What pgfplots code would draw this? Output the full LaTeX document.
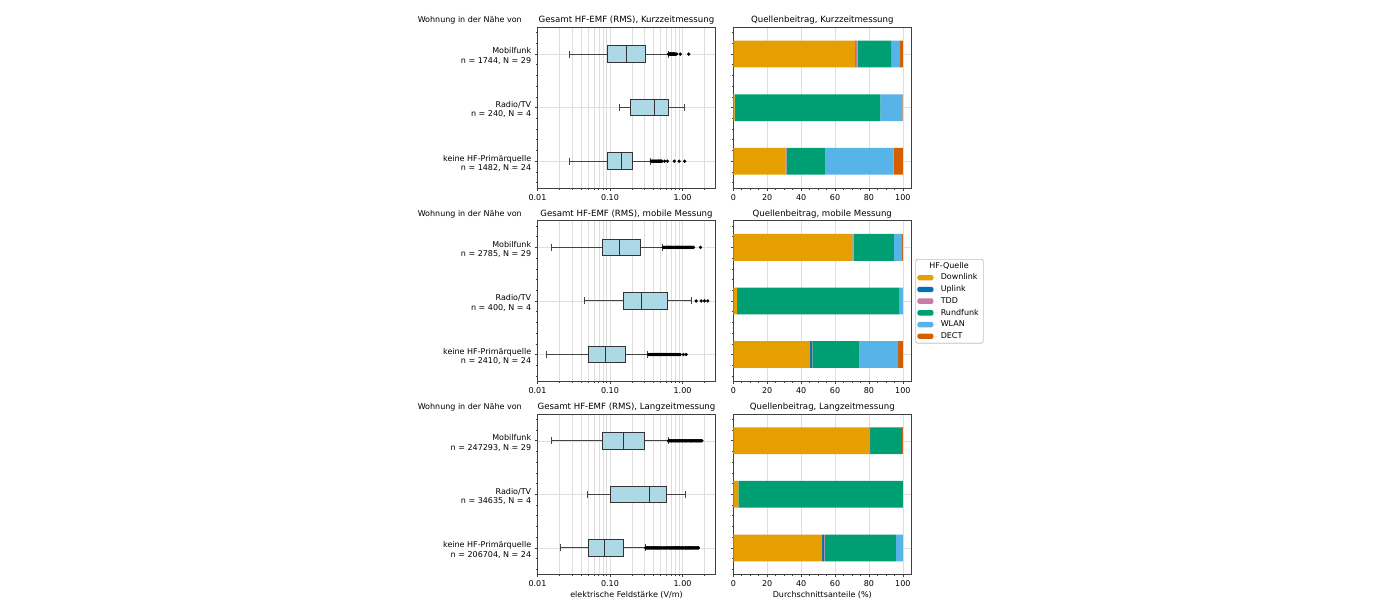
\documentclass[border=0pt]{standalone}
\usepackage{pgfplots}
\pgfplotsset{compat=1.18}
\usepgfplotslibrary{statistics}
\usepackage{fontspec}
\setmainfont{DejaVu Sans}
\definecolor{boxfill}{HTML}{ADD8E6}
\definecolor{boxedge}{HTML}{333333}
\definecolor{whisk}{HTML}{444444}
\definecolor{cDown}{HTML}{E69F00}
\definecolor{cUp}{HTML}{0072B2}
\definecolor{cTDD}{HTML}{CC79A7}
\definecolor{cRund}{HTML}{009E73}
\definecolor{cWLAN}{HTML}{56B4E9}
\definecolor{cDECT}{HTML}{D55E00}
\definecolor{gridc}{HTML}{DEDEDE}
\pgfplotsset{
  myCommon/.style={
    scale only axis, width=178pt, height=160.7pt,
    font=\fontsize{8}{9.5}\selectfont,
    axis line style={black!75, line width=0.6pt},
    tick align=outside, major tick length=2.8pt, minor tick length=1.6pt,
    every tick/.style={black!75, line width=0.6pt},
    xtick pos=lower, ytick pos=left,
    ymin=-0.5, ymax=2.5, y dir=reverse, ytick={0,1,2},
    minor ytick={-0.4,-0.2,0.2,0.4,0.6,0.8,1.2,1.4,1.6,1.8,2.2,2.4},
    ymajorgrids, xmajorgrids,
    major grid style={gridc, line width=0.55pt},
    minor grid style={gridc, line width=0.55pt},
    /pgf/number format/assume math mode=true,
    every axis title/.style={at={(0.5,1)}, anchor=base, yshift=4.5pt, inner sep=0pt, font=\fontsize{8.6}{10}\selectfont},
    xticklabel style={font=\fontsize{8}{9.5}\selectfont},
    yticklabel style={font=\fontsize{8}{9.5}\selectfont},
    every axis x label/.style={at={(0.5,0)}, anchor=base, yshift=-22.3pt, inner sep=0pt, font=\fontsize{8}{9.5}\selectfont},
    clip=false,
  },
  myLeft/.style={myCommon, xmin=0.01, xmax=2.85,
    xtick={0.01,0.1,1}, xticklabels={0.01,0.10,1.00},
    minor xtick={0.02,0.03,0.04,0.05,0.06,0.07,0.08,0.09,0.2,0.3,0.4,0.5,0.6,0.7,0.8,0.9,2},
    xminorgrids,
    yticklabel style={align=right, yshift=-2pt},
    boxplot/draw direction=x,
    boxplot/every box/.style={fill=boxfill, draw=boxedge, line width=1pt},
    boxplot/every median/.style={draw=boxedge, line width=1pt},
    boxplot/every whisker/.style={draw=whisk, line width=0.9pt},
  },
  myRight/.style={myCommon, xmin=0, xmax=105,
    xtick={0,20,40,60,80,100},
    minor xtick={5,10,15,25,30,35,45,50,55,65,70,75,85,90,95},
    yticklabels={},
    xbar stacked, bar width=0.5,
  },
  myBox/.style={draw=whisk, line width=0.9pt, solid},
  myFl/.style={only marks, mark=*, mark size=1.5pt, black, mark options={fill=black, draw=black, line width=0.3pt}},
}
\newcommand{\wohn}{\node[anchor=base east, inner sep=0pt, font=\fontsize{8}{9.5}\selectfont] at (axis description cs:0,1) [xshift=-15.5pt, yshift=4.5pt] {Wohnung in der Nähe von};}
\begin{document}
\begin{tikzpicture}
\path[use as bounding box] (0,0) rectangle (1400pt,613pt);

% ---------- Kurzzeitmessung: box plot
\begin{semilogxaxis}[myLeft, at={(537.5pt,585.7pt)}, anchor=north west,
  title={Gesamt HF-EMF (RMS), Kurzzeitmessung},
  yticklabels={{Mobilfunk\\n = 1744, N = 29},{Radio/TV\\n = 240, N = 4},{keine HF-Primärquelle\\n = 1482, N = 24}}]
\wohn
\addplot[myBox, boxplot prepared={draw position=0, lower whisker=0.0274, lower quartile=0.0914, median=0.171, upper quartile=0.312, upper whisker=0.634, box extend=0.31, whisker extend=0.13}] coordinates {};
\addplot[myBox, boxplot prepared={draw position=1, lower whisker=0.134, lower quartile=0.190, median=0.406, upper quartile=0.648, upper whisker=1.077, box extend=0.31, whisker extend=0.13}] coordinates {};
\addplot[myBox, boxplot prepared={draw position=2, lower whisker=0.0276, lower quartile=0.0933, median=0.146, upper quartile=0.204, upper whisker=0.366, box extend=0.31, whisker extend=0.13}] coordinates {};
\addplot[myFl] coordinates {(0.64,0) (0.65,0) (0.66,0) (0.67,0) (0.68,0) (0.69,0) (0.70,0) (0.71,0) (0.72,0) (0.73,0) (0.74,0) (0.75,0) (0.76,0) (0.77,0) (0.78,0) (0.80,0) (0.83,0) (0.93,0) (1.22,0)};
\addplot[myFl] coordinates {(0.37,2) (0.38,2) (0.39,2) (0.40,2) (0.41,2) (0.42,2) (0.43,2) (0.44,2) (0.45,2) (0.46,2) (0.47,2) (0.48,2) (0.49,2) (0.50,2) (0.51,2) (0.52,2) (0.565,2) (0.62,2) (0.77,2) (0.90,2) (1.07,2)};
\end{semilogxaxis}

% ---------- Kurzzeitmessung: shares
\begin{axis}[myRight, at={(733.3pt,585.7pt)}, anchor=north west,
  title={Quellenbeitrag, Kurzzeitmessung}]
\addplot[fill=cDown, draw=none] coordinates {(71.8,0) (0.8,1) (30.8,2)};
\addplot[fill=cUp, draw=none] coordinates {(0.3,0) (0,1) (0.4,2)};
\addplot[fill=cTDD, draw=none] coordinates {(1.2,0) (0,1) (0.2,2)};
\addplot[fill=cRund, draw=none] coordinates {(19.8,0) (86.0,1) (22.9,2)};
\addplot[fill=cWLAN, draw=none] coordinates {(5.3,0) (13.0,1) (40.2,2)};
\addplot[fill=cDECT, draw=none] coordinates {(1.6,0) (0.2,1) (5.5,2)};
\end{axis}

% ---------- mobile Messung: box plot
\begin{semilogxaxis}[myLeft, at={(537.5pt,392.4pt)}, anchor=north west,
  title={Gesamt HF-EMF (RMS), mobile Messung},
  yticklabels={{Mobilfunk\\n = 2785, N = 29},{Radio/TV\\n = 400, N = 4},{keine HF-Primärquelle\\n = 2410, N = 24}}]
\wohn
\addplot[myBox, boxplot prepared={draw position=0, lower whisker=0.01545, lower quartile=0.0788, median=0.137, upper quartile=0.263, upper whisker=0.535, box extend=0.31, whisker extend=0.13}] coordinates {};
\addplot[myBox, boxplot prepared={draw position=1, lower whisker=0.045, lower quartile=0.155, median=0.272, upper quartile=0.628, upper whisker=1.32, box extend=0.31, whisker extend=0.13}] coordinates {};
\addplot[myBox, boxplot prepared={draw position=2, lower whisker=0.01317, lower quartile=0.051, median=0.0876, upper quartile=0.165, upper whisker=0.333, box extend=0.31, whisker extend=0.13}] coordinates {};
\addplot[myFl] coordinates {(0.54,0) (0.553,0) (0.567,0) (0.58,0) (0.595,0) (0.61,0) (0.625,0) (0.64,0) (0.656,0) (0.672,0) (0.689,0) (0.706,0) (0.724,0) (0.742,0) (0.76,0) (0.78,0) (0.80,0) (0.82,0) (0.84,0) (0.86,0) (0.88,0) (0.90,0) (0.925,0) (0.95,0) (0.97,0) (1.00,0) (1.02,0) (1.05,0) (1.08,0) (1.10,0) (1.13,0) (1.16,0) (1.19,0) (1.22,0) (1.25,0) (1.28,0) (1.31,0) (1.34,0) (1.38,0) (1.42,0) (1.77,0)};
\addplot[myFl] coordinates {(1.54,1) (1.81,1) (2.01,1) (2.23,1)};
\addplot[myFl] coordinates {(0.34,2) (0.35,2) (0.36,2) (0.37,2) (0.38,2) (0.39,2) (0.40,2) (0.41,2) (0.42,2) (0.43,2) (0.44,2) (0.45,2) (0.46,2) (0.47,2) (0.48,2) (0.50,2) (0.51,2) (0.52,2) (0.54,2) (0.55,2) (0.57,2) (0.58,2) (0.60,2) (0.61,2) (0.63,2) (0.65,2) (0.66,2) (0.68,2) (0.70,2) (0.72,2) (0.74,2) (0.76,2) (0.78,2) (0.80,2) (0.82,2) (0.84,2) (0.86,2) (0.88,2) (0.90,2) (0.93,2) (1.03,2) (1.12,2)};
\end{semilogxaxis}

% ---------- mobile Messung: shares
\begin{axis}[myRight, at={(733.3pt,392.4pt)}, anchor=north west,
  title={Quellenbeitrag, mobile Messung},
  legend style={at={(1.024,0.761)}, anchor=north west, draw=black!45, rounded corners=1.5pt,
    fill=white, inner sep=1pt, row sep=0pt,
    font=\fontsize{8}{9.5}\selectfont,
    nodes={inner ysep=2pt, inner xsep=3.5pt, text height=6pt, text depth=1.7pt, anchor=west}},
  legend cell align=left,
  legend image code/.code={\fill[#1] (0.7pt,-2.7pt) rectangle (16.7pt,2.7pt); \path (0pt,0pt) -- (20.5pt,0pt);}]
\addlegendimage{empty legend}
\addlegendentry{\hspace*{-11.5pt}HF-Quelle}
\addplot[fill=cDown, draw=none] coordinates {(70.2,0) (2.2,1) (45.3,2)};
\addlegendentry{Downlink}
\addplot[fill=cUp, draw=none] coordinates {(0.2,0) (0,1) (1.2,2)};
\addlegendentry{Uplink}
\addplot[fill=cTDD, draw=none] coordinates {(0.6,0) (0,1) (0.2,2)};
\addlegendentry{TDD}
\addplot[fill=cRund, draw=none] coordinates {(23.7,0) (95.6,1) (27.7,2)};
\addlegendentry{Rundfunk}
\addplot[fill=cWLAN, draw=none] coordinates {(4.9,0) (2.2,1) (22.8,2)};
\addlegendentry{WLAN}
\addplot[fill=cDECT, draw=none] coordinates {(0.4,0) (0,1) (2.8,2)};
\addlegendentry{DECT}
\end{axis}

% ---------- Langzeitmessung: box plot
\begin{semilogxaxis}[myLeft, at={(537.5pt,199pt)}, anchor=north west,
  title={Gesamt HF-EMF (RMS), Langzeitmessung},
  xlabel={elektrische Feldstärke (V/m)},
  yticklabels={{Mobilfunk\\n = 247293, N = 29},{Radio/TV\\n = 34635, N = 4},{keine HF-Primärquelle\\n = 206704, N = 24}}]
\wohn
\addplot[myBox, boxplot prepared={draw position=0, lower whisker=0.01545, lower quartile=0.078, median=0.155, upper quartile=0.302, upper whisker=0.634, box extend=0.31, whisker extend=0.13}] coordinates {};
\addplot[myBox, boxplot prepared={draw position=1, lower whisker=0.049, lower quartile=0.1016, median=0.347, upper quartile=0.595, upper whisker=1.10, box extend=0.31, whisker extend=0.13}] coordinates {};
\addplot[myBox, boxplot prepared={draw position=2, lower whisker=0.0205, lower quartile=0.050, median=0.083, upper quartile=0.153, upper whisker=0.306, box extend=0.31, whisker extend=0.13}] coordinates {};
\addplot[myFl] coordinates {(0.64,0) (0.655,0) (0.67,0) (0.69,0) (0.705,0) (0.72,0) (0.74,0) (0.76,0) (0.78,0) (0.80,0) (0.82,0) (0.84,0) (0.86,0) (0.88,0) (0.90,0) (0.92,0) (0.95,0) (0.97,0) (1.00,0) (1.02,0) (1.05,0) (1.08,0) (1.10,0) (1.13,0) (1.16,0) (1.19,0) (1.22,0) (1.25,0) (1.28,0) (1.31,0) (1.34,0) (1.38,0) (1.42,0) (1.45,0) (1.49,0) (1.53,0) (1.57,0) (1.61,0) (1.65,0) (1.69,0) (1.73,0) (1.77,0) (1.81,0) (1.85,0)};
\addplot[myFl] coordinates {(0.31,2) (0.318,2) (0.326,2) (0.334,2) (0.342,2) (0.35,2) (0.36,2) (0.37,2) (0.38,2) (0.39,2) (0.40,2) (0.41,2) (0.42,2) (0.43,2) (0.44,2) (0.45,2) (0.46,2) (0.47,2) (0.48,2) (0.50,2) (0.51,2) (0.52,2) (0.54,2) (0.55,2) (0.57,2) (0.58,2) (0.60,2) (0.61,2) (0.63,2) (0.65,2) (0.66,2) (0.68,2) (0.70,2) (0.72,2) (0.74,2) (0.76,2) (0.78,2) (0.80,2) (0.82,2) (0.84,2) (0.86,2) (0.88,2) (0.90,2) (0.92,2) (0.95,2) (0.97,2) (1.00,2) (1.02,2) (1.05,2) (1.08,2) (1.10,2) (1.13,2) (1.16,2) (1.19,2) (1.22,2) (1.25,2) (1.28,2) (1.31,2) (1.34,2) (1.38,2) (1.42,2) (1.45,2) (1.49,2) (1.53,2) (1.57,2) (1.61,2) (1.66,2)};
\end{semilogxaxis}

% ---------- Langzeitmessung: shares
\begin{axis}[myRight, at={(733.3pt,199pt)}, anchor=north west,
  title={Quellenbeitrag, Langzeitmessung},
  xlabel={Durchschnittsanteile (\%)}]
\addplot[fill=cDown, draw=none] coordinates {(80.5,0) (3.0,1) (52.4,2)};
\addplot[fill=cUp, draw=none] coordinates {(0.1,0) (0,1) (1.2,2)};
\addplot[fill=cTDD, draw=none] coordinates {(0.1,0) (0,1) (0.2,2)};
\addplot[fill=cRund, draw=none] coordinates {(18.8,0) (97.0,1) (42.1,2)};
\addplot[fill=cWLAN, draw=none] coordinates {(0.1,0) (0,1) (4.1,2)};
\addplot[fill=cDECT, draw=none] coordinates {(0.4,0) (0,1) (0,2)};
\end{axis}
\end{tikzpicture}
\end{document}
